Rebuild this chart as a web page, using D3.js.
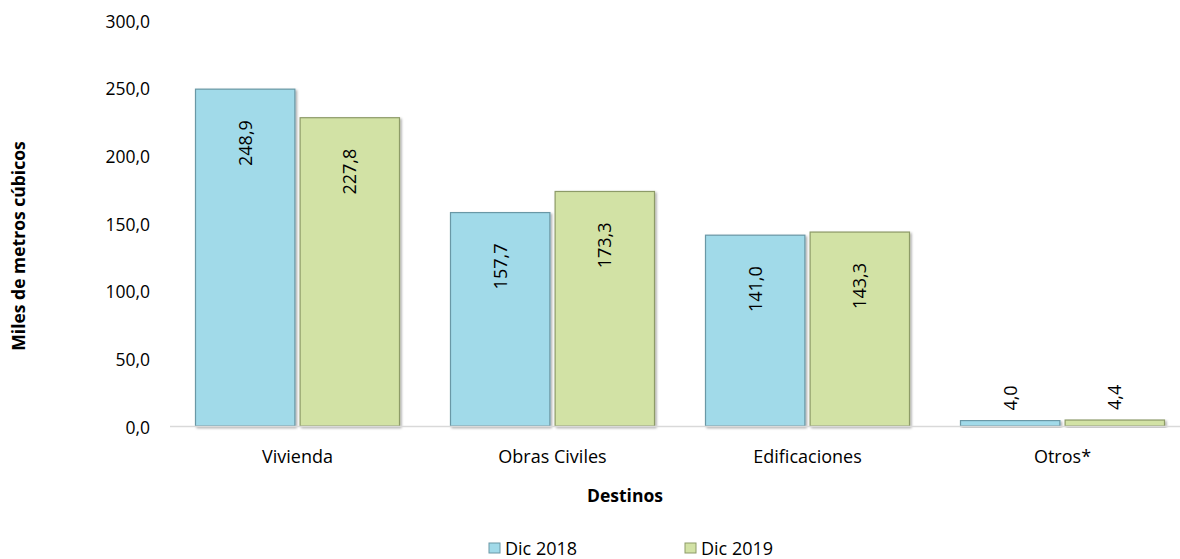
<!DOCTYPE html>
<html>
<head>
  <meta charset="utf8">
  <script src="https://d3js.org/d3.v7.min.js"></script>
  <style>
    body { margin: 0; background: #fff; }
    text { font-family: "Open Sans", "DejaVu Sans", sans-serif; fill: #000; }
  </style>
</head>
<body>
  <svg id="chart" width="1180" height="559"></svg>
  <script>
    var categories = ['Vivienda', 'Obras Civiles', 'Edificaciones', 'Otros*'];
    var series = ['Dic 2018', 'Dic 2019'];
    var dic2018 = [248.9, 157.7, 141.0, 4.0];
    var dic2019 = [227.8, 173.3, 143.3, 4.4];
    var yTicks = [0, 50, 100, 150, 200, 250, 300];

    var fills = ['#a1dae9', '#d2e2a5'];
    var strokes = ['#6a98a6', '#8d9b68'];

    var data = categories.map(function (c, i) {
      return { cat: c, values: [dic2018[i], dic2019[i]] };
    });

    var fmt = function (v) { return d3.format('.1f')(v).replace('.', ','); };

    var chart = d3.select('#chart');

    var defs = chart.append('defs');
    defs.append('filter').attr('id', 'shadow')
      .attr('x', '-10%').attr('y', '-10%').attr('width', '130%').attr('height', '130%')
      .append('feDropShadow')
      .attr('dx', 1.5).attr('dy', 1.5).attr('stdDeviation', 0.8)
      .attr('flood-color', '#000').attr('flood-opacity', 0.35);

    var x0 = d3.scaleBand()
      .domain(categories)
      .range([170, 1190])
      .paddingInner(0.2)
      .paddingOuter(0.1);

    var x1 = d3.scaleBand()
      .domain(series)
      .range([0, x0.bandwidth()])
      .paddingInner(0.05);

    var y = d3.scaleLinear()
      .domain([0, 300])
      .range([426, 20]);

    // y axis labels
    var yAxis = chart.append('g')
      .attr('transform', 'translate(150,0)')
      .call(d3.axisLeft(y).tickValues(yTicks).tickFormat(fmt).tickSize(0).tickPadding(0));
    yAxis.select('.domain').remove();
    yAxis.selectAll('text')
      .style('font-size', '17.5px')
      .style('font-family', '"Open Sans", sans-serif')
      .attr('dy', '0.4em')
      .attr('fill', '#000');

    // bars
    var groups = chart.selectAll('g.cat')
      .data(data)
      .enter()
      .append('g')
      .attr('class', 'cat')
      .attr('transform', function (d) { return 'translate(' + x0(d.cat) + ',0)'; });

    var items = groups.selectAll('g.bar')
      .data(function (d) {
        return d.values.map(function (v, i) { return { key: series[i], idx: i, value: v }; });
      })
      .enter()
      .append('g')
      .attr('class', 'bar');

    items.append('rect')
      .attr('x', function (d) { return x1(d.key); })
      .attr('y', function (d) { return y(d.value); })
      .attr('width', x1.bandwidth())
      .attr('height', function (d) { return y(0) - y(d.value); })
      .attr('fill', function (d) { return fills[d.idx]; })
      .attr('stroke', function (d) { return strokes[d.idx]; })
      .attr('stroke-width', 1.2)
      .attr('filter', 'url(#shadow)');

    items.append('text')
      .attr('transform', function (d) {
        var cx = x1(d.key) + x1.bandwidth() / 2;
        var inside = y(0) - y(d.value) > 60;
        var ty = inside ? y(d.value) + 31 : y(d.value) - 10;
        return 'translate(' + cx + ',' + ty + ') rotate(-90)';
      })
      .attr('text-anchor', function (d) { return y(0) - y(d.value) > 60 ? 'end' : 'start'; })
      .attr('dy', '0.35em')
      .style('font-size', '18px')
      .text(function (d) { return fmt(d.value); });

    // x axis
    var xAxis = chart.append('g')
      .attr('transform', 'translate(0,426)')
      .call(d3.axisBottom(x0).tickSize(0).tickPadding(24));
    xAxis.select('.domain')
      .attr('stroke', '#d9d9d9')
      .attr('stroke-width', 1.5)
      .attr('d', 'M170,0.5H1190');
    xAxis.selectAll('text')
      .style('font-size', '18px')
      .style('font-family', '"Open Sans", sans-serif')
      .attr('fill', '#000');

    // axis titles
    chart.append('text')
      .attr('x', 625)
      .attr('y', 502)
      .attr('text-anchor', 'middle')
      .style('font-size', '17.5px')
      .style('font-weight', 'bold')
      .text('Destinos');

    chart.append('text')
      .attr('transform', 'translate(25,246) rotate(-90)')
      .attr('text-anchor', 'middle')
      .style('font-size', '17.5px')
      .style('font-weight', 'bold')
      .text('Miles de metros cúbicos');

    // legend
    var legendX = [489, 685];
    var legend = chart.selectAll('g.legend')
      .data(series)
      .enter()
      .append('g')
      .attr('class', 'legend')
      .attr('transform', function (d, i) { return 'translate(' + legendX[i] + ',543)'; });

    legend.append('rect')
      .attr('width', 11)
      .attr('height', 10)
      .attr('fill', function (d, i) { return fills[i]; })
      .attr('stroke', function (d, i) { return strokes[i]; })
      .attr('stroke-width', 1);

    legend.append('text')
      .attr('x', 16)
      .attr('y', 12)
      .style('font-size', '18px')
      .text(function (d) { return d; });
  </script>
</body>
</html>
